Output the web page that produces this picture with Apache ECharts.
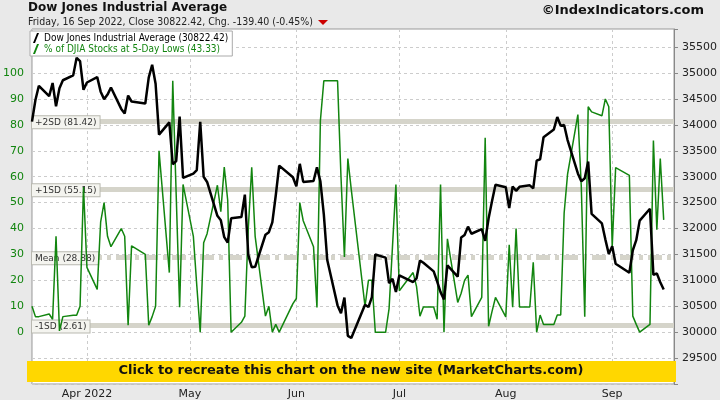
<!DOCTYPE html>
<html><head><meta charset="utf-8">
<script src="https://cdn.jsdelivr.net/npm/echarts@6/dist/echarts.min.js"></script>
<style>html,body{margin:0;padding:0;background:#e9e9e9}#c{width:720px;height:400px}</style>
</head><body><div id="c"></div>
<script>
const dates = ["2022-03-16","2022-03-17","2022-03-18","2022-03-21","2022-03-22","2022-03-23","2022-03-24","2022-03-25","2022-03-28","2022-03-29","2022-03-30","2022-03-31",
"2022-04-01","2022-04-04","2022-04-05","2022-04-06","2022-04-07","2022-04-08","2022-04-11","2022-04-12","2022-04-13","2022-04-14","2022-04-18","2022-04-19","2022-04-20","2022-04-21","2022-04-22","2022-04-25","2022-04-26","2022-04-27","2022-04-28","2022-04-29",
"2022-05-02","2022-05-03","2022-05-04","2022-05-05","2022-05-06","2022-05-09","2022-05-10","2022-05-11","2022-05-12","2022-05-13","2022-05-16","2022-05-17","2022-05-18","2022-05-19","2022-05-20","2022-05-23","2022-05-24","2022-05-25","2022-05-26","2022-05-27","2022-05-31",
"2022-06-01","2022-06-02","2022-06-03","2022-06-06","2022-06-07","2022-06-08","2022-06-09","2022-06-10","2022-06-13","2022-06-14","2022-06-15","2022-06-16","2022-06-17","2022-06-21","2022-06-22","2022-06-23","2022-06-24","2022-06-27","2022-06-28","2022-06-29","2022-06-30",
"2022-07-01","2022-07-05","2022-07-06","2022-07-07","2022-07-08","2022-07-11","2022-07-12","2022-07-13","2022-07-14","2022-07-15","2022-07-18","2022-07-19","2022-07-20","2022-07-21","2022-07-22","2022-07-25","2022-07-26","2022-07-27","2022-07-28","2022-07-29",
"2022-08-01","2022-08-02","2022-08-03","2022-08-04","2022-08-05","2022-08-08","2022-08-09","2022-08-10","2022-08-11","2022-08-12","2022-08-15","2022-08-16","2022-08-17","2022-08-18","2022-08-19","2022-08-22","2022-08-23","2022-08-24","2022-08-25","2022-08-26","2022-08-29","2022-08-30","2022-08-31",
"2022-09-01","2022-09-02","2022-09-06","2022-09-07","2022-09-08","2022-09-09","2022-09-12","2022-09-13","2022-09-14","2022-09-15","2022-09-16"];
const djia = [34063,34481,34754,34553,34808,34359,34708,34861,34955,35294,35229,34678,
34818,34922,34641,34497,34584,34721,34308,34220,34565,34451,34412,34911,35160,34793,33811,34049,33240,33301,34160,32977,
33061,33129,34061,32998,32899,32246,32160,31834,31730,32197,32223,32655,31490,31253,31262,31880,31929,32120,32637,33213,32990,
32813,33248,32900,32916,33180,32910,32273,31393,30517,30365,30668,29927,29889,30530,30484,30677,31500,31439,30947,31029,30775,
31097,30968,31037,31385,31338,31173,30982,30773,30631,31288,31073,31827,31875,32037,31899,31990,31762,32198,32530,32845,
32798,32397,32813,32727,32804,32833,32775,33310,33337,33761,33913,34152,33981,33999,33707,33064,32910,32970,33292,32283,32099,31791,31510,
31657,31319,31146,31581,31775,32152,32381,31105,31135,30962,30822.42];
const pctLows = [10,6,6,7,5,37,0.5,6,6.5,6.5,10,56,
25,16.5,42.6,50,37,33,40,37,2.7,33.3,30,2.7,6,10,70,23,97,53,9.6,57,
37,18,0,34.5,38,56.7,46.5,63.7,51,0,3.8,6.2,40,63.6,37,6.2,10,0,3,0,11,
13,50,43,33,9.5,81.6,97,97,97,60,29,67,55,10,20,20,0,0,9,33,57,
16,23,17.7,6.2,9.7,9.7,5,57,0,36,11.5,15,20,22,6,13.4,75,2.3,8,13.4,
5.9,33.7,9.6,40,9.7,9.7,27,0,6.6,3,3,6.6,6.6,46,61,84,56,6,87,85,83.5,90,87,
33,63.5,60.5,6.2,3,0,3,74,39.5,67,43.33];
const bands = [{name:"+2SD (81.42)",v:81.42},{name:"+1SD (55.15)",v:55.15},{name:"Mean (28.88)",v:28.88},{name:"-1SD (2.61)",v:2.61}];
const monthNames=["Jan","Feb","Mar","Apr","May","Jun","Jul","Aug","Sep","Oct","Nov","Dec"];

const chart = echarts.init(document.getElementById('c'));
const green='#12850f';
const bandLabel={show:true,position:'insideStartTop',distance:[0,-7],formatter:p=>p.name,fontSize:9,color:'#333',backgroundColor:'#f4f4ef',borderColor:'#b9b9b0',borderWidth:1,padding:[2,3,1,3],fontFamily:'DejaVu Sans'};
chart.setOption({
  animation:false,
  backgroundColor:'#e9e9e9',
  textStyle:{fontFamily:'DejaVu Sans'},
  grid:{left:27,right:44,top:29,bottom:15,show:true,backgroundColor:'#fff',borderColor:'#999',borderWidth:1},
  legend:{left:30,top:31,orient:'vertical',itemGap:1,itemWidth:6,itemHeight:10,backgroundColor:'#fff',borderColor:'#aaa',borderWidth:1,padding:[2,4,2,3],
    textStyle:{fontSize:10,fontFamily:'DejaVu Sans Condensed'},
    data:[{name:'Dow Jones Industrial Average (30822.42)',icon:'path://M0,10L4,0L6,0L2,10Z',textStyle:{color:'#000'}},
          {name:'% of DJIA Stocks at 5-Day Lows (43.33)',icon:'path://M0,10L4,0L6,0L2,10Z',textStyle:{color:green}}]},
  xAxis:{type:'time',min:'2022-03-16',max:'2022-09-19',minInterval:27*864e5,maxInterval:32*864e5,
    axisLine:{show:false},axisTick:{show:false},
    axisLabel:{fontSize:11,color:'#222',showMinLabel:false,showMaxLabel:false,margin:5,
      formatter:v=>{const d=new Date(v);return d.getMonth()===3?'Apr 2022':monthNames[d.getMonth()];}},
    splitLine:{show:true,lineStyle:{color:'#ccc',type:[3,3]}}},
  yAxis:[
    {type:'value',min:-20,max:117,interval:10,position:'left',axisLine:{show:false},axisTick:{show:false},splitLine:{show:false},
      axisLabel:{color:green,fontSize:11,margin:8,formatter:v=>(v<0||v>100)?'':String(v)}},
    {type:'value',min:29000,max:35850,interval:500,position:'right',axisLine:{show:true,lineStyle:{color:'#888'}},axisTick:{show:true,length:4,lineStyle:{color:'#888'}},
      splitLine:{show:true,lineStyle:{color:'#ccc',type:[3,3]}},
      axisLabel:{color:'#222',fontSize:11,margin:8,formatter:v=>(v<29500||v>35500)?'':String(v)}}
  ],
  series:[
    {name:'% of DJIA Stocks at 5-Day Lows (43.33)',type:'line',yAxisIndex:0,z:3,symbol:'none',itemStyle:{color:green},lineStyle:{color:green,width:1.5},
      data:dates.map((d,i)=>[d,pctLows[i]]),
      markLine:{silent:true,symbol:'none',z:1,
        data:bands.map(b=>({name:b.name,yAxis:b.v,lineStyle:{color:'#d5d4ca',width:5,type:b.name.startsWith('Mean')?[14,5,4,5]:'solid'},label:bandLabel}))}},
    {name:'Dow Jones Industrial Average (30822.42)',type:'line',yAxisIndex:1,z:4,symbol:'none',itemStyle:{color:'#000'},lineStyle:{color:'#000',width:2.5},
      data:dates.map((d,i)=>[d,djia[i]])}
  ],
  graphic:[
    {type:'text',x:28,y:2,style:{text:'Dow Jones Industrial Average',font:'bold 12px DejaVu Sans',fill:'#111',verticalAlign:'top'}},
    {type:'text',x:28,y:17,style:{text:'Friday, 16 Sep 2022, Close 30822.42, Chg. -139.40 (-0.45%)',font:'10.5px DejaVu Sans Condensed',fill:'#222',verticalAlign:'top'}},
    {type:'polygon',shape:{points:[[318,20],[328,20],[323,25]]},style:{fill:'#cc0000'}},
    {type:'text',right:16,top:4,style:{text:'©IndexIndicators.com',font:'bold 13px DejaVu Sans',fill:'#111'}},
    {type:'rect',shape:{x:27,y:361,width:649,height:21},style:{fill:'#ffd700'},z:100},
    {type:'text',x:351,y:371,z:101,style:{text:'Click to recreate this chart on the new site (MarketCharts.com)',font:'bold 13px DejaVu Sans',fill:'#111',align:'center',verticalAlign:'middle'}}
  ]
});
</script></body></html>
